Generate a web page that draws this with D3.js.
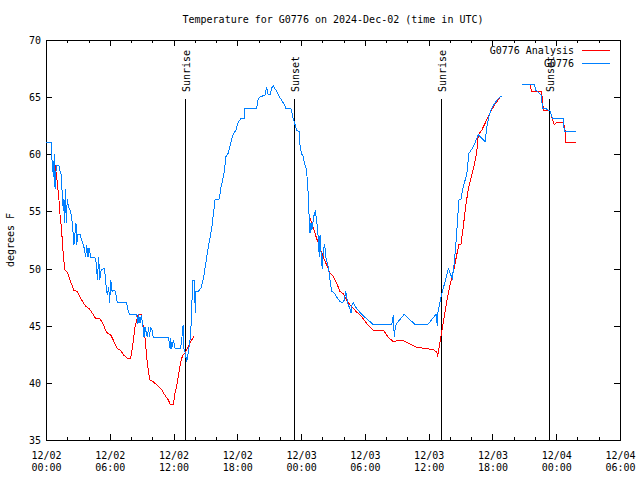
<!DOCTYPE html>
<html><head><meta charset="utf-8">
<script src="https://cdn.jsdelivr.net/npm/d3@7"></script>
<style>
html,body{margin:0;padding:0;background:#fff;}
svg{display:block;}
text{font-family:"DejaVu Sans Mono",monospace;font-size:10px;fill:#000;}
</style></head>
<body>
<svg id="chart" width="640" height="480"></svg>
<script>
// hours since 2024-12-02 00:00 UTC ; null = gap in data
const obsHours = [0,0.50,0.51,0.63,0.69,0.78,0.85,0.97,1.22,1.32,1.44,1.48,1.63,1.69,1.76,1.82,1.91,2.00,2.10,2.26,2.38,2.47,2.57,2.63,2.82,2.89,3.01,3.20,3.36,3.51,3.64,3.73,3.83,3.95,4.05,4.21,4.58,4.68,4.77,4.83,4.96,5.05,5.20,5.46,5.58,5.64,5.77,5.90,5.99,6.09,6.21,6.33,6.46,6.59,6.71,7.59,7.71,7.81,7.90,8.53,8.59,8.65,8.72,8.84,8.97,9.10,9.22,9.31,9.53,9.66,9.72,9.85,9.97,10.09,11.51,11.60,11.67,11.73,11.83,11.98,12.14,12.67,12.79,12.86,12.92,12.98,13.10,13.24,13.39,13.61,13.71,13.80,13.95,14.05,14.11,14.33,14.58,14.74,14.86,15.12,15.31,15.59,15.74,15.90,16.30,16.44,16.62,16.77,16.93,17.15,17.38,17.62,17.87,18.09,18.32,18.63,18.72,19.82,19.97,20.13,20.60,20.76,20.91,21.07,21.23,21.38,21.70,22.01,22.39,22.58,23.05,23.21,23.43,23.59,23.83,23.90,24.06,24.21,24.30,24.46,24.52,24.62,24.68,24.77,24.84,24.93,25.02,25.15,25.24,25.34,25.47,25.56,25.66,25.71,25.78,25.90,25.99,26.09,26.22,26.34,26.47,26.60,26.72,26.88,27.09,27.35,27.66,27.91,28.06,28.20,28.29,28.44,28.60,28.69,28.79,28.91,29.23,29.70,30.17,30.79,32.52,32.67,32.77,32.86,32.99,33.71,34.71,35.91,36.69,36.81,36.88,37.07,37.23,37.54,37.85,38.10,38.22,38.41,38.54,38.64,38.73,38.85,39.04,39.26,39.58,39.79,40.10,40.36,40.67,40.99,41.30,41.46,41.68,41.93,42.24,42.55,42.87,43.80,44.81,45.94,46.07,46.26,46.63,46.69,47.04,47.13,47.41,47.57,47.63,48.67,48.76,49.83];
const obsTemps = [61.0,61.0,60.0,58.9,58.0,60.0,57.0,59.0,59.0,58.5,58.2,57.3,55.0,56.1,54.0,57.0,54.0,56.1,55.4,55.1,54.7,54.0,52.9,52.1,54.0,52.1,53.0,53.0,52.5,52.1,51.6,51.0,52.1,51.0,51.8,51.0,51.0,50.75,50.0,49.0,51.0,49.0,49.9,50.0,49.4,48.6,47.7,48.4,47.0,49.0,48.0,48.1,48.1,47.7,47.0,47.0,46.4,46.1,46.0,46.0,45.5,45.2,46.0,45.2,45.9,45.1,44.0,44.9,44.0,44.9,44.0,44.9,44.6,44.0,44.0,43.5,43.0,43.9,43.0,43.75,43.0,43.0,44.0,44.8,45.1,43.0,42.6,41.85,42.7,44.2,46.5,49.0,49.0,46.1,48.0,48.0,48.3,48.9,49.4,51.0,52.1,53.5,54.7,56.0,56.1,57.0,57.75,58.5,59.8,60.1,61.0,61.8,62.1,62.85,63.1,63.1,64.0,64.0,64.9,65.0,65.2,65.9,65.2,65.2,65.8,66.0,65.5,64.95,64.4,64.0,64.0,63.3,62.6,62.1,62.0,60.7,60.0,59.8,59.2,58.8,58.3,57.6,56.0,54.25,53.1,54.0,53.4,54.25,54.8,55.0,54.1,53.4,51.8,51.0,52.9,51.0,50.0,51.6,52.1,50.9,50.5,49.9,49.0,48.0,47.9,47.5,47.1,47.0,47.25,48.0,47.5,46.8,46.5,46.1,46.8,47.0,46.5,46.0,45.6,45.1,45.1,45.9,44.0,44.9,45.2,46.0,45.1,45.1,46.0,45.0,46.2,47.1,47.8,48.85,50.0,49.4,49.15,50.5,51.9,53.2,54.4,56.0,56.1,57.2,58.2,60.1,60.5,61.0,61.7,61.4,61.1,62.3,63.4,64.0,64.5,64.9,65.1,null,66.1,66.1,65.6,65.5,65.1,64.0,64.0,63.9,63.8,63.4,63.1,63.1,62.0,62.0];

const anaHours = [0.85,1.01,1.13,1.22,1.32,1.44,1.53,1.60,1.76,2.00,2.16,2.38,2.63,2.94,3.26,3.73,4.05,4.36,4.68,5.08,5.39,5.71,6.09,6.40,6.71,6.96,7.34,7.74,7.97,8.16,8.37,8.68,8.94,9.10,9.31,9.47,9.62,9.78,10.09,10.56,10.88,11.20,11.51,11.67,11.98,12.14,12.35,12.54,12.67,12.86,13.08,13.24,13.39,13.71,13.92,19.0,24.84,25.00,25.21,25.47,25.78,26.09,26.41,26.72,27.03,27.35,27.66,27.97,28.29,28.60,28.91,29.23,29.70,30.17,30.48,30.79,31.73,32.20,32.67,33.14,33.61,34.24,34.87,35.81,36.44,36.76,36.85,36.94,37.07,37.38,37.70,38.01,38.32,38.64,38.85,39.04,39.26,39.48,39.73,40.05,40.29,40.52,40.67,40.99,41.30,41.61,41.93,42.24,42.71,44.0,45.53,45.69,46.57,46.69,46.79,47.41,47.57,47.82,48.04,48.67,48.83,48.92,49.83];
const anaTemps = [59.1,58.0,56.9,56.0,54.7,53.7,52.5,51.5,49.9,49.7,49.3,48.7,48.1,48.0,47.4,46.7,46.5,46.1,45.6,45.6,45.1,44.4,44.2,43.6,43.0,42.9,42.4,42.1,42.15,43.3,44.9,46.0,46.0,45.2,44.0,42.3,41.1,40.25,40.1,39.7,39.4,38.9,38.5,38.15,38.15,39.1,40.0,41.1,41.85,42.4,42.6,42.9,43.2,43.75,44.1,null,54.4,54.0,53.4,52.6,51.8,51.0,50.3,49.6,49.3,48.7,48.0,47.8,47.25,46.8,46.5,46.2,45.8,45.2,44.9,44.6,44.6,44.0,43.6,43.7,43.7,43.4,43.1,43.0,42.9,42.7,42.3,42.9,43.6,45.35,47.1,48.6,49.7,51.2,52.1,52.1,53.7,55.4,57.0,58.2,59.1,60.2,61.7,62.1,62.7,63.3,63.9,64.4,64.95,null,66.1,65.5,65.5,65.0,63.8,63.8,63.3,62.6,62.8,62.8,62.1,61.0,61.0];

const sunEvents = [
  {time: "2024-12-02T13:05:00Z", label: "Sunrise"},
  {time: "2024-12-02T23:20:00Z", label: "Sunset"},
  {time: "2024-12-03T13:10:00Z", label: "Sunrise"},
  {time: "2024-12-03T23:19:00Z", label: "Sunset"}
];
const yTicks = [35,40,45,50,55,60,65,70];
const seriesNames = ["G0776 Analysis", "G0776"];
const seriesColors = ["#ff0000", "#0080ff"];
const titleText = "Temperature for G0776 on 2024-Dec-02 (time in UTC)";
const yLabel = "degrees F";

const base = Date.UTC(2024, 11, 2, 0, 0);
const toDate = h => new Date(base + h * 3600000);
const obs = obsHours.map((h, i) => ({t: toDate(h), v: obsTemps[i]}));
const ana = anaHours.map((h, i) => ({t: toDate(h), v: anaTemps[i]}));

const L = 46, R = 620, T = 40, B = 440;
const x = d3.scaleUtc().domain([new Date(base), toDate(54)]).range([L, R]);
const y = d3.scaleLinear().domain([35, 70]).range([B, T]);

const svg = d3.select("#chart");

// title
svg.append("text").attr("x", 333).attr("y", 23).attr("text-anchor", "middle").text(titleText);
// y label
svg.append("text").attr("transform", "translate(14,240) rotate(-90)").attr("text-anchor", "middle").text(yLabel);

const majorX = d3.utcHour.every(6).range(new Date(base), toDate(54.01));
const minorX = d3.utcHour.every(2).range(new Date(base), toDate(54.01));

function styleAxis(g) {
  g.attr("font-family", null).attr("font-size", null);
  g.select(".domain").remove();
  g.selectAll(".tick line").attr("stroke", "#000").attr("shape-rendering", "crispEdges");
}

// bottom minor ticks
svg.append("g").attr("transform", `translate(0,${B})`)
  .call(d3.axisBottom(x).tickValues(minorX).tickSizeInner(-3).tickSizeOuter(0).tickFormat(() => ""))
  .call(styleAxis);
// top minor ticks
svg.append("g").attr("transform", `translate(0,${T})`)
  .call(d3.axisTop(x).tickValues(minorX).tickSizeInner(-3).tickSizeOuter(0).tickFormat(() => ""))
  .call(styleAxis);
// bottom major
const xb = svg.append("g").attr("transform", `translate(0,${B})`)
  .call(d3.axisBottom(x).tickValues(majorX).tickSizeInner(-6).tickSizeOuter(0).tickFormat(() => ""))
  .call(styleAxis);
xb.selectAll(".tick text").remove();
xb.selectAll(".tick").append("text")
  .attr("text-anchor", "middle")
  .each(function(d) {
    const t = d3.select(this);
    t.append("tspan").attr("x", 0).attr("y", 19).text(d3.utcFormat("%m/%d")(d));
    t.append("tspan").attr("x", 0).attr("y", 31).text(d3.utcFormat("%H:%M")(d));
  });
// top major
svg.append("g").attr("transform", `translate(0,${T})`)
  .call(d3.axisTop(x).tickValues(majorX).tickSizeInner(-6).tickSizeOuter(0).tickFormat(() => ""))
  .call(styleAxis);
// left
const yl = svg.append("g").attr("transform", `translate(${L},0)`)
  .call(d3.axisLeft(y).tickValues(yTicks).tickSizeInner(-6).tickSizeOuter(0).tickPadding(5).tickFormat(d3.format("d")))
  .call(styleAxis);
yl.selectAll(".tick text").attr("dy", "0.35em");
// right
svg.append("g").attr("transform", `translate(${R},0)`)
  .call(d3.axisRight(y).tickValues(yTicks).tickSizeInner(-6).tickSizeOuter(0).tickFormat(() => ""))
  .call(styleAxis);

// frame
svg.append("rect").attr("x", L + 0.5).attr("y", T + 0.5).attr("width", R - L).attr("height", B - T)
  .attr("fill", "none").attr("stroke", "#000").attr("shape-rendering", "crispEdges");

// sun event lines
const sun = svg.append("g");
sunEvents.forEach(e => {
  const xv = Math.round(x(new Date(e.time))) + 0.5;
  sun.append("line").attr("x1", xv).attr("x2", xv).attr("y1", 99).attr("y2", B)
    .attr("stroke", "#000").attr("stroke-width", 1).attr("shape-rendering", "crispEdges");
  sun.append("text").attr("transform", `translate(${xv + 4},92) rotate(-90)`).attr("text-anchor", "start").text(e.label);
});

const line = d3.line().defined(d => d.v != null).x(d => x(d.t)).y(d => y(d.v));

svg.append("path").datum(ana).attr("d", line).attr("fill", "none")
  .attr("stroke", seriesColors[0]).attr("stroke-width", 1).attr("shape-rendering", "crispEdges");
svg.append("path").datum(obs).attr("d", line).attr("fill", "none")
  .attr("stroke", seriesColors[1]).attr("stroke-width", 1).attr("shape-rendering", "crispEdges");

// legend
const leg = svg.append("g");
seriesNames.forEach((n, i) => {
  const yy = 50 + i * 13;
  leg.append("text").attr("x", 574).attr("y", yy + 4).attr("text-anchor", "end").text(n);
  leg.append("line").attr("x1", 582).attr("x2", 610).attr("y1", yy + 0.5).attr("y2", yy + 0.5)
    .attr("stroke", seriesColors[i]).attr("stroke-width", 1).attr("shape-rendering", "crispEdges");
});
</script>
</body></html>
